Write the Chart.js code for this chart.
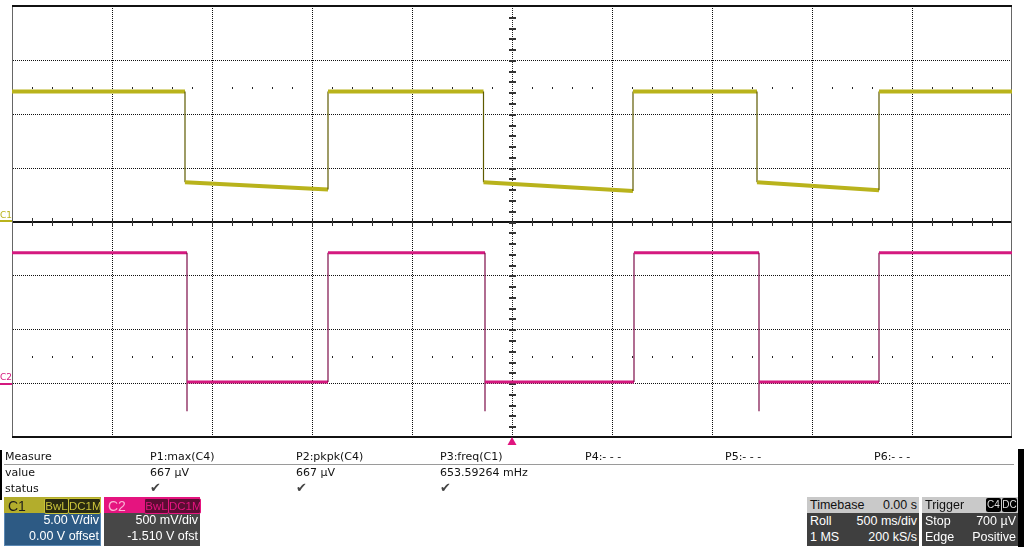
<!DOCTYPE html>
<html>
<head>
<meta charset="utf-8">
<script src="https://cdn.jsdelivr.net/npm/chart.js@4.4.0/dist/chart.umd.min.js"></script>
<style>
  html, body { margin:0; padding:0; background:#fff; width:1024px; height:547px; overflow:hidden; }
  #wrap { position:relative; width:1024px; height:547px; }
  canvas { position:absolute; left:0; top:0; }
  .t { position:absolute; font-family:"DejaVu Sans", sans-serif; font-size:11px; color:#111; white-space:nowrap; line-height:13px; }
  .box { position:absolute; font-family:"Liberation Sans", Arial, sans-serif; font-size:12.5px; white-space:nowrap; }
  .hdr { position:absolute; left:0; top:0; right:0; height:16px; }
  .row { position:absolute; left:0; right:0; height:15px; line-height:15px; color:#fff; }
  .l { position:absolute; left:3px; }
  .r { position:absolute; right:2px; }
  .tag { position:absolute; top:1px; height:14px; line-height:14px; font-size:11.5px; text-align:center; border-radius:2px; }
</style>
</head>
<body>
<div id="wrap">
<canvas id="c" width="1024" height="547"></canvas>
</div>
<script>
// C1 (yellow): time in seconds, value in volts (5 V/div, 0 V offset)
const c1Time  = [-2.5, -1.635, -1.635, -0.92, -0.92, -0.1425, -0.1425, 0.605, 0.605, 1.225, 1.225, 1.835, 1.835, 2.5];
const c1Volts = [12.06, 12.06, 3.64, 2.96, 12.06, 12.06, 3.64, 2.82, 12.06, 12.06, 3.64, 2.9, 12.06, 12.06];
// C2 (magenta): time in seconds, value in volts (500 mV/div, -1.510 V offset)
const c2Time  = [-2.5, -1.625, -1.625, -1.625, -0.92, -0.92, -0.135, -0.135, -0.135, 0.61, 0.61, 1.235, 1.235, 1.235, 1.835, 1.835, 2.5];
const c2Volts = [1.22, 1.22, -0.25, 0.02, 0.02, 1.22, 1.22, -0.25, 0.02, 0.02, 1.22, 1.22, -0.25, 0.02, 0.02, 1.22, 1.22];
// grid divisions
const timeDivs = [-2.5, -2.0, -1.5, -1.0, -0.5, 0, 0.5, 1.0, 1.5, 2.0, 2.5];   // 500 ms/div
const c1Divs   = [-20, -15, -10, -5, 0, 5, 10, 15, 20];                       // 5 V/div
const c2Offset = -1.51, c2Scale = 0.5;
// measurement panel
const measHeads  = ["P1:max(C4)", "P2:pkpk(C4)", "P3:freq(C1)", "P4:- - -", "P5:- - -", "P6:- - -"];
const measValues = ["667 µV", "667 µV", "653.59264 mHz", "", "", ""];
const measStatus = ["✔", "✔", "✔", "", "", ""];

const c1Pts = c1Time.map((t, i) => ({x: t, y: c1Volts[i]}));
const c2Pts = c2Time.map((t, i) => ({x: t, y: c2Volts[i]}));

const YEL = '#b9b31c', YEL_D = '#5e5a00';
const MAG = '#d4197f', MAG_D = '#7c0c48';

const gridPlugin = {
  id: 'scopeGrid',
  beforeDatasetsDraw(chart) {
    const ctx = chart.ctx, xs = chart.scales.x, ys = chart.scales.y, ca = chart.chartArea;
    ctx.save();
    // dotted grid lines
    ctx.fillStyle = '#111';
    timeDivs.forEach(t => {
      if (t === timeDivs[0] || t === timeDivs[timeDivs.length - 1] || t === 0) return;
      const x = Math.round(xs.getPixelForValue(t));
      for (let y = Math.round(ca.top); y < ca.bottom; y += 2) ctx.fillRect(x, y, 1, 1);
    });
    c1Divs.forEach(v => {
      if (v === c1Divs[0] || v === c1Divs[c1Divs.length - 1] || v === 0) return;
      const y = Math.round(ys.getPixelForValue(v));
      for (let x = Math.round(ca.left) + 1; x < ca.right; x += 2) ctx.fillRect(x, y, 1, 1);
    });
    // sparse dot rows at +/- 2.5 div
    ctx.fillStyle = '#222';
    [12.5, -12.5].forEach(v => {
      const y = Math.round(ys.getPixelForValue(v));
      for (let t = -2.4; t < 2.5; t += 0.1) {
        const tr = Math.round(t * 10) / 10;
        if (Math.abs(tr * 2 - Math.round(tr * 2)) < 1e-6) continue;
        const x = Math.round(xs.getPixelForValue(tr));
        ctx.fillRect(x, y, 1, 2);
      }
    });
    // centre horizontal axis (solid with ticks)
    const y0 = Math.round(ys.getPixelForValue(0));
    ctx.fillStyle = '#111';
    ctx.fillRect(ca.left, y0 - 1, ca.right - ca.left, 2);
    ctx.fillStyle = '#333';
    for (let t = -2.4; t < 2.5; t += 0.1) {
      const x = Math.round(xs.getPixelForValue(Math.round(t * 10) / 10));
      ctx.fillRect(x, y0 - 4, 1, 8);
    }
    // centre vertical axis (dotted) with ticks
    const x0 = Math.round(xs.getPixelForValue(0));
    ctx.fillStyle = '#222';
    for (let y = Math.round(ca.top); y < ca.bottom; y += 2) ctx.fillRect(x0, y, 1, 1);
    ctx.fillStyle = '#333';
    for (let v = -19; v < 20; v += 1) {
      const y = Math.round(ys.getPixelForValue(v));
      ctx.fillRect(x0 - 3, y, 7, 2);
    }
    // frame
    ctx.fillStyle = '#666';
    ctx.fillRect(ca.left, ca.top, 1, ca.bottom - ca.top);
    ctx.fillRect(ca.right - 1, ca.top, 1, ca.bottom - ca.top);
    ctx.fillStyle = '#111';
    ctx.fillRect(ca.left, ca.top - 1, ca.right - ca.left, 2);
    ctx.fillRect(ca.left, ca.bottom - 1, ca.right - ca.left, 2);
    ctx.restore();
  },
  afterDatasetsDraw(chart) {
    const ctx = chart.ctx, xs = chart.scales.x, ys = chart.scales.y, y2 = chart.scales.y2, ca = chart.chartArea;
    ctx.save();
    // channel ground markers
    const g1 = Math.round(ys.getPixelForValue(0));
    const g2 = Math.round(y2.getPixelForValue(0));
    ctx.font = '9px "DejaVu Sans", sans-serif';
    ctx.textBaseline = 'alphabetic';
    ctx.fillStyle = YEL; ctx.fillText('C1', 0, g1 - 4); ctx.fillRect(0, g1 - 2, ca.left, 2);
    ctx.fillStyle = MAG; ctx.fillText('C2', 0, g2 - 4); ctx.fillRect(0, g2 - 1, ca.left, 2);
    // trigger marker
    const xt = xs.getPixelForValue(0);
    ctx.fillStyle = '#e0157f';
    ctx.beginPath(); ctx.moveTo(xt, ca.bottom); ctx.lineTo(xt - 4.5, ca.bottom + 8); ctx.lineTo(xt + 4.5, ca.bottom + 8); ctx.closePath(); ctx.fill();
    ctx.restore();
  }
};

const vert = (ctx) => ctx.p0.parsed.x === ctx.p1.parsed.x;

new Chart(document.getElementById('c'), {
  type: 'line',
  data: {
    datasets: [
      { label: 'C1', data: c1Pts, yAxisID: 'y', borderColor: YEL, borderWidth: 4, pointRadius: 0, tension: 0,
        segment: { borderColor: c => vert(c) ? YEL_D : undefined, borderWidth: c => vert(c) ? 1.2 : undefined } },
      { label: 'C2', data: c2Pts, yAxisID: 'y2', borderColor: MAG, borderWidth: 3, pointRadius: 0, tension: 0,
        segment: { borderColor: c => vert(c) ? MAG_D : undefined, borderWidth: c => vert(c) ? 1.2 : undefined } }
    ]
  },
  options: {
    responsive: false, animation: false, devicePixelRatio: 1,
    layout: { padding: { left: 12, top: 6, right: 12, bottom: 110 } },
    plugins: { legend: { display: false }, tooltip: { enabled: false } },
    scales: {
      x:  { type: 'linear', min: timeDivs[0], max: timeDivs[timeDivs.length - 1], display: false },
      y:  { type: 'linear', min: c1Divs[0], max: c1Divs[c1Divs.length - 1], display: false },
      y2: { type: 'linear', min: -c2Offset - 4 * c2Scale, max: -c2Offset + 4 * c2Scale, display: false }
    }
  },
  plugins: [gridPlugin]
});

// ---- bottom panel (HTML text) ----
const wrap = document.getElementById('wrap');
function add(html, style, cls) {
  const d = document.createElement('div');
  d.className = cls || 't';
  d.innerHTML = html;
  Object.assign(d.style, style);
  wrap.appendChild(d);
  return d;
}
add('', {left:'0px', top:'450px', width:'2px', height:'50px', background:'#000'}, 'box');
add('', {left:'1018px', top:'449px', width:'6px', height:'98px', background:'#000'}, 'box');
add('Measure', {left:'5px', top:'450px'});
add('value', {left:'5px', top:'466px'});
add('status', {left:'5px', top:'482px'});
add('', {left:'4px', top:'464px', width:'1010px', height:'1px', background:'#9a9a9a'}, 'box');
const measX = [150, 296, 440, 585, 725, 874];
measHeads.forEach((h, i) => {
  add(h, {left: measX[i] + 'px', top:'450px'});
  if (measValues[i]) add(measValues[i], {left: measX[i] + 'px', top:'466px'});
  if (measStatus[i]) add(measStatus[i], {left: measX[i] + 'px', top:'481px', color:'#444', fontSize:'13px'});
});

function chBox(x, w, name, hdrBg, nameCol, tagBg, tagCol, bodyBg, l1, l2, border) {
  const b = add('', {left: x + 'px', top:'497px', width: w + 'px', height:'49px', background: bodyBg, boxShadow: border ? 'inset 0 0 0 1px ' + border : 'none'}, 'box');
  const h = document.createElement('div'); h.className = 'hdr'; h.style.background = hdrBg; b.appendChild(h);
  h.innerHTML = '<span style="position:absolute;left:4px;top:1px;font-size:14px;color:' + nameCol + '">' + name + '</span>' +
    '<span class="tag" style="left:40px;width:23px;background:' + tagBg + ';color:' + tagCol + ';border:1px solid ' + tagCol + '">BwL</span>' +
    '<span class="tag" style="left:64px;width:31px;background:' + tagBg + ';color:' + tagCol + ';border:1px solid ' + tagCol + '">DC1M</span>';
  const r1 = document.createElement('div'); r1.className = 'row'; r1.style.top = '16px'; r1.innerHTML = '<span class="r">' + l1 + '</span>'; b.appendChild(r1);
  const r2 = document.createElement('div'); r2.className = 'row'; r2.style.top = '32px'; r2.innerHTML = '<span class="r">' + l2 + '</span>'; b.appendChild(r2);
}
chBox(4, 97, 'C1', '#b3ad2c', '#1c1c1c', '#2a2a10', '#c9c23a', '#2d5a84', '5.00 V/div', '0.00 V offset', '#5b88b3');
chBox(104, 96, 'C2', '#e5147f', '#f9b3d4', '#5c0c33', '#e5147f', '#474747', '500 mV/div', '-1.510 V ofst', null);

function infoBox(x, w, hdrL, hdrR, rows) {
  const b = add('', {left: x + 'px', top:'497px', width: w + 'px', height:'49px', background:'#3f3f3f'}, 'box');
  const h = document.createElement('div'); h.className = 'hdr'; h.style.background = '#c9c9c9'; h.style.color = '#111'; h.style.lineHeight = '16px';
  h.innerHTML = '<span class="l">' + hdrL + '</span>' + hdrR; b.appendChild(h);
  rows.forEach((r, i) => {
    const d = document.createElement('div'); d.className = 'row'; d.style.top = (17 + i * 16) + 'px';
    d.innerHTML = '<span class="l">' + r[0] + '</span><span class="r">' + r[1] + '</span>'; b.appendChild(d);
  });
}
infoBox(807, 112, 'Timebase', '<span class="r">0.00 s</span>', [['Roll', '500 ms/div'], ['1 MS', '200 kS/s']]);
infoBox(922, 96, 'Trigger',
  '<span class="tag" style="left:64px;width:15px;background:#000;color:#ddd;font-size:10px">C4</span>' +
  '<span class="tag" style="left:80px;width:15px;background:#000;color:#ddd;font-size:10px">DC</span>',
  [['Stop', '700 µV'], ['Edge', 'Positive']]);
</script>
</body>
</html>
